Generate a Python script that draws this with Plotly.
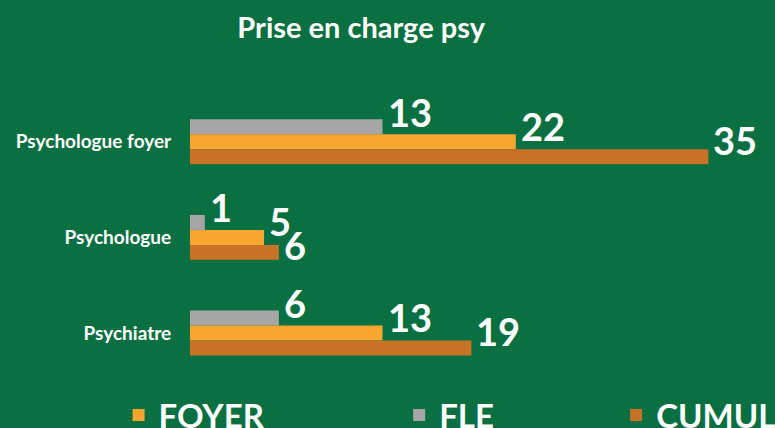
import plotly.graph_objects as go

categories = ["Psychologue foyer", "Psychologue", "Psychiatre"]
fle = [13, 1, 6]
foyer = [22, 5, 13]
cumul = [35, 6, 19]
series_names = ["FLE", "FOYER", "CUMUL"]
series_values = [fle, foyer, cumul]
title_text = "Prise en charge psy"

BG = "#0A6F41"
COLORS = {"FLE": "#A6A6A6", "FOYER": "#F7A630", "CUMUL": "#C87228"}
LEGEND_ID = {"FOYER": "legend", "FLE": "legend2", "CUMUL": "legend3"}
LEGEND_X = {"legend": 0.153, "legend2": 0.515, "legend3": 0.795}
FONT = "Lato"

# vertical pixel shift of labels per series (bar offset + lift above bar)
LABEL_SHIFT = {"FLE": 30, "FOYER": 16, "CUMUL": 2}
SPECIAL_SHIFT = {("CUMUL", "Psychologue"): -8}

fig = go.Figure()
for name, vals in zip(series_names, series_values):
    fig.add_trace(go.Bar(
        name=name, y=categories, x=vals, orientation="h",
        marker=dict(color=COLORS[name], line=dict(width=0)),
        legend=LEGEND_ID[name],
        hoverinfo="skip",
    ))

annotations = []
for name, vals in zip(series_names, series_values):
    for cat, v in zip(categories, vals):
        annotations.append(dict(
            x=v, y=cat, xref="x", yref="y", text=str(v), showarrow=False,
            xanchor="left", yanchor="middle", xshift=3,
            yshift=SPECIAL_SHIFT.get((name, cat), LABEL_SHIFT[name]),
            font=dict(family=FONT, size=38, color="white", weight="bold"),
        ))

legend_style = dict(orientation="h", xref="container", yref="container",
                    y=1 - 387 / 428, xanchor="left", yanchor="top",
                    font=dict(family=FONT, size=33, color="white", weight="bold"),
                    bgcolor="rgba(0,0,0,0)")

fig.update_layout(
    width=775, height=428,
    paper_bgcolor=BG, plot_bgcolor=BG,
    margin=dict(l=190, r=0, t=94, b=40, autoexpand=False),
    barmode="group", bargap=0.53, bargroupgap=0,
    title=dict(text=title_text, x=0.466, xref="container", xanchor="center",
               y=1 - 28 / 428, yref="container", yanchor="middle",
               font=dict(family=FONT, size=29, color="white", weight="bold")),
    xaxis=dict(range=[0, 39.5], visible=False, fixedrange=True),
    yaxis=dict(categoryorder="array", categoryarray=categories,
               autorange="reversed", showgrid=False, zeroline=False,
               showline=False, ticks="outside", ticklen=14,
               tickcolor="rgba(0,0,0,0)", fixedrange=True,
               tickfont=dict(family=FONT, size=19, color="white", weight="bold")),
    showlegend=True,
    legend=dict(legend_style, x=LEGEND_X["legend"]),
    legend2=dict(legend_style, x=LEGEND_X["legend2"]),
    legend3=dict(legend_style, x=LEGEND_X["legend3"]),
    annotations=annotations,
)

fig.write_html("out.html", config={"displayModeBar": False},
               post_script="document.body.style.margin='0';document.body.style.overflow='hidden';")
